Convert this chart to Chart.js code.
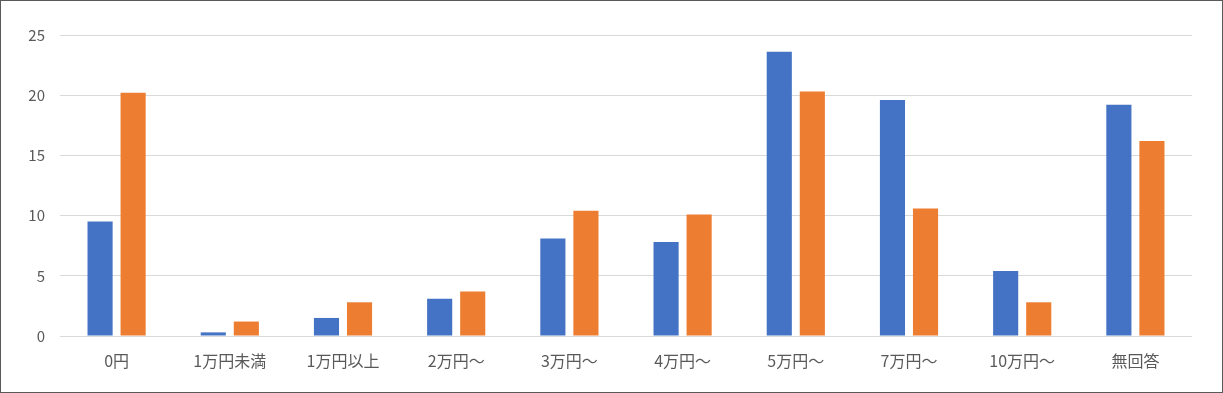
<!DOCTYPE html>
<html>
<head>
<meta charset="utf-8">
<script src="https://cdn.jsdelivr.net/npm/chart.js@4/dist/chart.umd.min.js"></script>
<style>
  html, body { margin: 0; padding: 0; background: #fff; }
  .frame { width: 1223px; height: 393px; box-sizing: border-box; border: 1px solid #595959; }
  canvas { display: block; }
</style>
</head>
<body>
<div class="frame">
  <canvas id="amount-chart" width="1221" height="391"></canvas>
</div>
<script>
// categories (answers) and the two series
const categories = ['0円', '1万円未満', '1万円以上', '2万円～', '3万円～', '4万円～', '5万円～', '7万円～', '10万円～', '無回答'];
const seriesBlue = [9.5, 0.3, 1.5, 3.1, 8.1, 7.8, 23.6, 19.6, 5.4, 19.2];
const seriesOrange = [20.2, 1.2, 2.8, 3.7, 10.4, 10.1, 20.3, 10.6, 2.8, 16.2];
const yTicks = [0, 5, 10, 15, 20, 25];

const textColor = '#595959';
const fontFamily = '"Noto Sans CJK JP", "Noto Sans", sans-serif';

new Chart(document.getElementById('amount-chart'), {
  type: 'bar',
  data: {
    labels: categories,
    datasets: [
      {
        data: seriesBlue,
        backgroundColor: '#4472C4',
        categoryPercentage: 0.584,
        barPercentage: 0.76,
      },
      {
        data: seriesOrange,
        backgroundColor: '#ED7D31',
        categoryPercentage: 0.584,
        barPercentage: 0.76,
      },
    ],
  },
  options: {
    responsive: false,
    animation: false,
    layout: { padding: { top: 34, right: 30, bottom: 0, left: 0 } },
    plugins: {
      legend: { display: false },
      tooltip: { enabled: false },
    },
    scales: {
      x: {
        grid: { display: false },
        border: { display: false },
        ticks: {
          color: textColor,
          font: { family: fontFamily, size: 16 },
          padding: 7,
          maxRotation: 0,
        },
        afterFit: (axis) => { axis.height = 56; },
      },
      y: {
        min: 0,
        max: 25,
        afterBuildTicks: (axis) => { axis.ticks = yTicks.map(v => ({ value: v })); },
        grid: { color: '#d9d9d9', lineWidth: 1, drawTicks: false },
        border: { display: false },
        ticks: {
          color: textColor,
          font: { family: fontFamily, size: 15 },
          padding: 15,
        },
        afterFit: (axis) => { axis.width = 59; },
      },
    },
  },
});
</script>
</body>
</html>
